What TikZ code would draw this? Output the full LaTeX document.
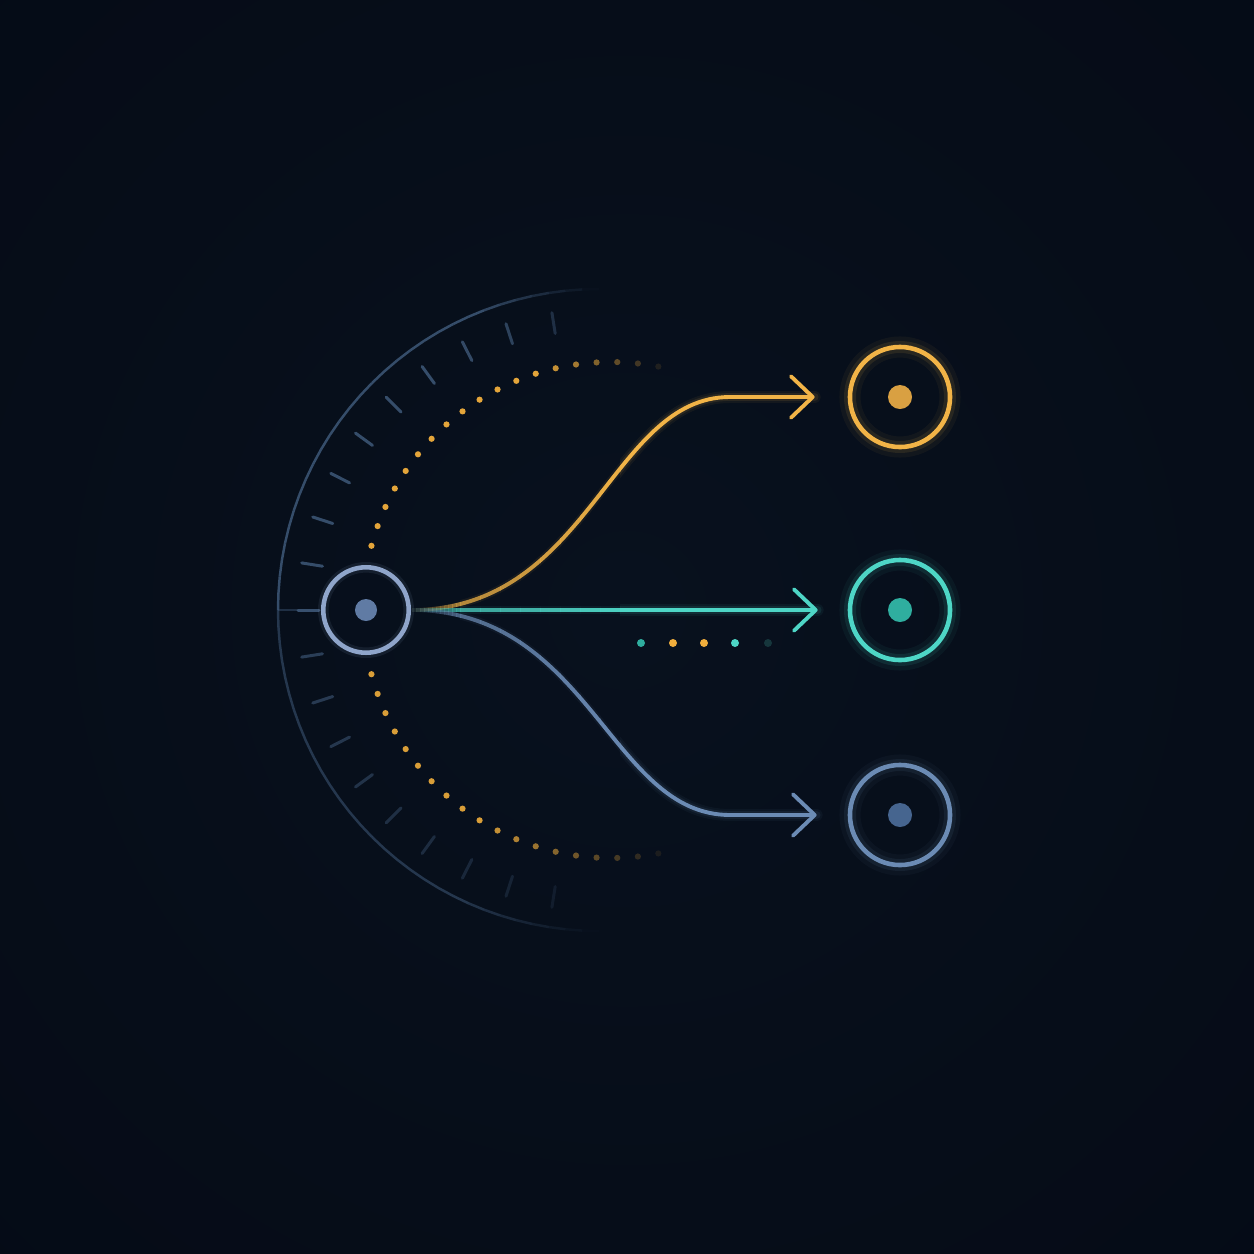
\documentclass[tikz,border=0pt]{standalone}
\usetikzlibrary{arrows.meta}
\definecolor{bgin}{HTML}{08111E}
\definecolor{bgout}{HTML}{050B16}
\definecolor{arcc}{HTML}{3E5878}
\definecolor{org}{HTML}{F2B447}
\definecolor{orgdot}{HTML}{F0AE3C}
\definecolor{orgcore}{HTML}{D9A042}
\definecolor{tea}{HTML}{4ED6C6}
\definecolor{teacore}{HTML}{2FAE9F}
\definecolor{teadim}{HTML}{16363C}
\definecolor{blu}{HTML}{6B8BB4}
\definecolor{blucore}{HTML}{46658F}
\definecolor{src}{HTML}{8FA5CA}
\definecolor{srccore}{HTML}{607BA4}
\tikzset{
  conn/.style={line width=1.1pt, line cap=round, line join=round},
  tipped/.style={-{Straight Barb[length=6.2pt, width=11.8pt, round]}},
  ring/.style={circle, draw, line width=1.3pt, inner sep=0pt, minimum size=1cm},
  core/.style={circle, inner sep=0pt, minimum size=0.24cm},
  arcline/.style={arcc, line width=0.7pt},
  tickline/.style={arcc, line width=0.85pt, line cap=round},
}
\newcommand\conns[1]{%
  \draw[conn, org, shorten >=0.33cm, #1] (s) .. controls (590,610) and (610,397) .. (730,397) -- (to);
  \draw[conn, tea, shorten >=0.30cm, #1] (s) -- (tt);
  \draw[conn, blu, shorten >=0.31cm, #1] (s) .. controls (590,610) and (610,815) .. (730,815) -- (tb);
}
\begin{document}
\begin{tikzpicture}[x=0.01cm, y=-0.01cm]
\useasboundingbox (0,0) rectangle (1254,1254);
\begin{scope}
  \clip (0,0) rectangle (1254,1254);
  \fill[bgout] (0,0) rectangle (1254,1254);
  \shade[inner color=bgin, outer color=bgout] (627,610) circle (950);
\end{scope}

% large faint dial arc
\foreach \a in {90,93,...,267}{
  \pgfmathsetmacro\op{\a<180 ? 0.55*min(1,(\a-89)/25) : 0.85*min(1,(268-\a)/22)}
  \draw[arcline, opacity=\op] ({599+321*cos(\a)},{610+321*sin(\a)}) -- ({599+321*cos(\a+3)},{610+321*sin(\a+3)});
}
% ticks
\foreach \a/\op in {99/0.2, 108/0.28, 117/0.34, 126/0.4, 135/0.45, 144/0.5, 153/0.55, 162/0.6, 171/0.65, 180/0.9, 189/0.85, 198/0.85, 207/0.85, 216/0.85, 225/0.85, 234/0.85, 243/0.8, 252/0.7, 261/0.45}{
  \draw[tickline, opacity=\op] ({599+280*cos(\a)},{610+280*sin(\a)}) -- ({599+301*cos(\a)},{610+301*sin(\a)});
}

% nodes
\node[ring, draw=src, minimum size=0.854cm] (s) at (366,610) {};
\node[core, fill=srccore, minimum size=0.22cm] (sc) at (366,610) {};
\draw[arcline, opacity=0.45] (278,610) -- (298,610);

% dotted orange arcs
\foreach \i in {0,...,18}{
  \pgfmathsetmacro\a{195+\i*86/18}
  \pgfmathsetmacro\op{\i<13 ? 0.95 : 0.95-(\i-12)*0.14}
  \fill[orgdot, opacity=\op] ({611+248*cos(\a)},{610+248*sin(\a)}) circle (3.1);
  \pgfmathsetmacro\b{165-\i*86/18}
  \pgfmathsetmacro\opb{\i<10 ? 0.9 : 0.9-(\i-9)*0.09}
  \fill[orgdot, opacity=\opb] ({611+248*cos(\b)},{610+248*sin(\b)}) circle (3.1);
}

% target glows
\foreach \p/\c in {397/org, 610/tea, 815/blu}{
  \draw[\c, opacity=0.05, line width=6pt] (900,\p) circle (50);
  \draw[\c, opacity=0.10, line width=3.4pt] (900,\p) circle (50);
}
\draw[src, opacity=0.10, line width=3pt] (366,610) circle (42.7);

% targets
\node[ring, draw=org] (to) at (900,397) {};
\node[core, fill=orgcore] (toc) at (900,397) {};
\node[ring, draw=tea] (tt) at (900,610) {};
\node[core, fill=teacore] (ttc) at (900,610) {};
\node[ring, draw=blu] (tb) at (900,815) {};
\node[core, fill=blucore] (tbc) at (900,815) {};

% connectors: fade-in near source
\foreach \i in {0,...,11}{
  \pgfmathsetmacro\xa{412+\i*4}
  \pgfmathsetmacro\op{(\i+1)/18}
  \begin{scope}
    \clip (\xa,540) rectangle (\xa+4.3,680);
    \conns{opacity=\op}
  \end{scope}
}
\foreach \i in {0,...,7}{
  \pgfmathsetmacro\xa{460+\i*20}
  \pgfmathsetmacro\op{0.72+\i*0.035}
  \begin{scope}
    \clip (\xa,380) rectangle (\xa+20.3,840);
    \conns{line width=2.2pt, opacity=0.07}
    \conns{opacity=\op}
  \end{scope}
}
\begin{scope}
  \clip (620,300) rectangle (1000,900);
  \conns{line width=3.4pt, opacity=0.06}
  \conns{line width=2.2pt, opacity=0.10}
  \conns{tipped}
\end{scope}

% small dot row
\fill[teacore] (641,643) circle (4);
\fill[orgdot] (673,643) circle (4);
\fill[orgdot] (704,643) circle (4);
\fill[tea] (735,643) circle (4);
\fill[teadim] (768,643) circle (4);
\end{tikzpicture}
\end{document}
